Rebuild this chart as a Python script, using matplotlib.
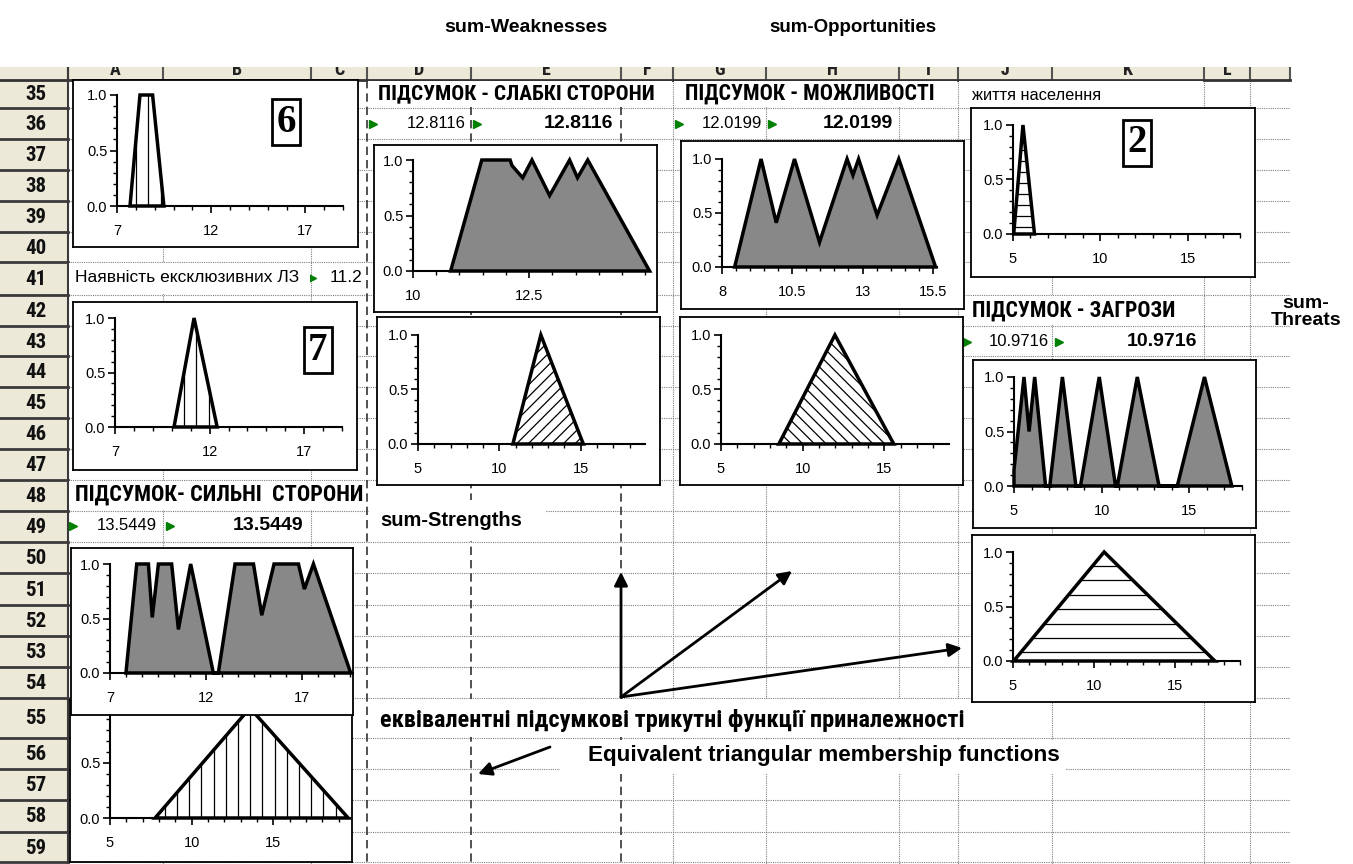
import numpy as np
import matplotlib
matplotlib.use('agg')
import matplotlib.pyplot as plt
from matplotlib.patches import Polygon, Rectangle
from matplotlib.lines import Line2D
from matplotlib.transforms import IdentityTransform
from matplotlib import font_manager

# ---- values ----
rows = list(range(35, 60))
cols = ['A', 'B', 'C', 'D', 'E', 'F', 'G', 'H', 'I', 'J', 'K', 'L']

# single criteria (charts 6, 7, 2)
c6_x = [7.69, 8.22, 8.89, 9.49]
c6_y = [0, 1, 1, 0]
c7_x = [10.12, 11.18, 12.4]
c7_y = [0, 1, 0]
c2_x = [5.04, 5.57, 6.23]
c2_y = [0, 1, 0]

# summed membership functions
s_x = [7.83, 8.39, 9.0, 9.2, 9.52, 10.21, 10.56, 11.2, 12.38, 12.64, 13.51, 14.47,
       14.9, 15.54, 16.81, 17.12, 17.59, 19.53]
s_y = [0, 1, 1, 0.51, 1, 1, 0.40, 1, 0, 0, 1, 1, 0.53, 1, 1, 0.77, 1, 0]
w_x = [10.81, 11.48, 12.09, 12.13, 12.36, 12.56, 12.94, 13.37, 13.54, 13.76, 15.09]
w_y = [0, 1, 1, 0.95, 0.84, 1, 0.68, 1, 0.84, 1, 0]
o_x = [8.45, 9.39, 9.93, 10.58, 11.47, 12.45, 12.66, 12.86, 13.52, 14.29, 15.6]
o_y = [0, 1, 0.41, 1, 0.23, 1, 0.85, 1, 0.48, 1, 0]
t_x = [5.0, 5.0, 5.57, 5.86, 6.18, 6.8, 7.04, 7.76, 8.53, 8.79, 9.86, 10.79, 10.89,
       12.03, 13.27, 14.31, 15.86, 17.42]
t_y = [0, 0.15, 1, 0.5, 1, 0, 0, 1, 0, 0, 1, 0, 0, 1, 0, 0, 1, 0]

# equivalent triangular functions (left, peak, right)
s_tri = [7.76, 13.57, 19.59]
w_tri = [10.83, 12.55, 15.16]
o_tri = [8.54, 11.97, 15.57]
t_tri = [5.04, 10.62, 17.45]
tri_y = [0, 1, 0]

s_val, w_val, o_val, t_val = '13.5449', '12.8116', '12.0199', '10.9716'

# ---- layout ----
W, H = 1353, 864
row_edges = [80, 108, 139, 170, 201, 232, 262, 295, 326, 356, 387, 418, 449, 480,
             511, 542, 573, 605, 636, 667, 698, 738, 769, 800, 832, 862]
col_edges = [68, 163, 311, 367, 471, 621, 673, 766, 899, 958, 1052, 1204, 1250, 1290]
page_breaks = [367, 471, 621]
# cells whose text overflows into the next cells (row index, x from, x to)
overflow = [(0, 368, 672), (0, 674, 957), (0, 959, 1203), (6, 69, 310), (7, 959, 1203),
            (13, 69, 366), (20, 368, 1051)]

names = {f.name for f in font_manager.fontManager.ttflist}
NARROW = 'Liberation Sans'
for cand in ['Liberation Sans Narrow', 'Roboto Condensed', 'Open Sans Condensed']:
    if cand in names:
        NARROW = cand
        break
SANS = 'Liberation Sans'

fig = plt.figure(figsize=(W / 100, H / 100), dpi=100)
bg = fig.add_axes([0, 0, 1, 1])
bg.set_xlim(0, W)
bg.set_ylim(H, 0)
bg.axis('off')
renderer = fig.canvas.get_renderer()


def rect(l, t, r, b):
    return [l / W, 1 - b / H, (r - l) / W, (b - t) / H]


def fit(t, target):
    w = t.get_window_extent(renderer).width
    t.set_fontsize(t.get_fontsize() * target / w)


# sheet grid
for y in row_edges[1:]:
    bg.plot([68, 1290], [y, y], color='#808080', lw=0.8, ls=(0, (1, 1)))
for x in col_edges[1:-1]:
    if x in page_breaks:
        bg.plot([x, x], [80, H], color='#333333', lw=1.2, ls=(0, (5, 3)))
    else:
        bg.plot([x, x], [80, H], color='#808080', lw=0.8, ls=(0, (1, 1)))
for i, xa, xb in overflow:
    bg.add_patch(Rectangle((xa, row_edges[i] + 1), xb - xa, row_edges[i + 1] - row_edges[i] - 2,
                           fc='white', ec='none', zorder=2.5))
# white boxes behind the two overlay captions
bg.add_patch(Rectangle((369, 500), 177, 41, fc='white', ec='none', zorder=2.5))
bg.add_patch(Rectangle((560, 740), 505, 34, fc='white', ec='none', zorder=2.5))

# column header (letters mostly cut off at the top of the screenshot)
bg.add_patch(Rectangle((0, 67), 1290, 13, fc='#ece9d8', ec='none'))
for i, c in enumerate(cols):
    bg.text((col_edges[i] + col_edges[i + 1]) / 2, 70, c, ha='center', va='center',
            fontsize=13, fontweight='bold', family=NARROW, color='#222222')
bg.add_patch(Rectangle((0, 40), 1300, 27, fc='white', ec='none', zorder=5))
for x in col_edges:
    bg.plot([x, x], [67, 80], color='#555555', lw=1.5)
bg.plot([0, 1290], [80, 80], color='#333333', lw=2)

# row headers
for i, r in enumerate(rows):
    top, bot = row_edges[i], row_edges[i + 1]
    bg.add_patch(Rectangle((0, top), 68, bot - top, fc='#ece9d8', ec='none'))
    bg.plot([0, 68], [bot, bot], color='#3a3a3a', lw=2)
    bg.text(36, (top + bot) / 2 + 1, str(r), ha='center', va='center', fontsize=15,
            fontweight='bold', family=NARROW, color='#111111')
bg.plot([68, 68], [67, H], color='#3a3a3a', lw=1.5)

# cell texts
heads = []
for x, y, s in [(378, 94, 'ПІДСУМОК - СЛАБКІ СТОРОНИ'), (685, 94, 'ПІДСУМОК - МОЖЛИВОСТІ'),
                (972, 311, 'ПІДСУМОК - ЗАГРОЗИ'), (75, 495, 'ПІДСУМОК- СИЛЬНІ  СТОРОНИ')]:
    heads.append(bg.text(x, y, s, ha='left', va='center', fontsize=14, fontweight='bold',
                         family=NARROW))
for t, tw in zip(heads, [277, 250, 204, 290]):
    fit(t, tw)

bg.text(972, 96, 'життя населення', ha='left', va='center', fontsize=11.8, family=SANS)
bg.text(75, 278, 'Наявність ексклюзивних ЛЗ', ha='left', va='center', fontsize=12.5, family=SANS)
bg.plot([312], [278], marker='>', color='#008000', ms=6)
bg.text(362, 278, '11.2', ha='right', va='center', fontsize=12.5, family=SANS)

for y, m1, r1, m2, r2, v in [(124, 373, 466, 477, 613, w_val), (124, 679, 762, 772, 893, o_val),
                             (342, 967, 1049, 1059, 1197, t_val), (526, 73, 157, 170, 303, s_val)]:
    bg.plot([m1, m2], [y, y], ls='none', marker='>', color='#008000', ms=6)
    bg.text(r1, y, v, ha='right', va='center', fontsize=12, family=SANS)
    bg.text(r2, y, v, ha='right', va='center', fontsize=14, fontweight='bold', family=SANS)

# annotation texts
bg.text(526, 27, 'sum-Weaknesses', ha='center', va='center', fontsize=14, fontweight='bold', family=SANS)
bg.text(853, 27, 'sum-Opportunities', ha='center', va='center', fontsize=13.5, fontweight='bold', family=SANS)
bg.text(1306, 312, 'sum-\nThreats', ha='center', va='center', fontsize=14, fontweight='bold',
        family=SANS, linespacing=1.0)
bg.text(380, 521, 'sum-Strengths', ha='left', va='center', fontsize=14.5, fontweight='bold', family=SANS)
t = bg.text(380, 720, 'еквівалентні підсумкові трикутні функції приналежності', ha='left',
            va='center', fontsize=18, fontweight='bold', family=NARROW)
fit(t, 583)
t = bg.text(588, 755, 'Equivalent triangular membership functions', ha='left', va='center',
            fontsize=14, fontweight='bold', family=SANS)
fit(t, 472)

arrow = dict(arrowstyle='-|>', color='black', lw=2, mutation_scale=20, shrinkA=0, shrinkB=0)
for tip in [(621, 572), (792, 571), (962, 648)]:
    bg.annotate('', xy=tip, xytext=(621, 697), arrowprops=arrow)
bg.annotate('', xy=(478, 774), xytext=(550, 747), arrowprops=arrow)


# ---- charts ----
def chart(box, area, xlim, xmajor, xminor, xlabels=None):
    fr = fig.add_axes(rect(*box))
    fr.set_xticks([])
    fr.set_yticks([])
    for s in fr.spines.values():
        s.set_linewidth(1.3)
    ax = fig.add_axes(rect(*area))
    ax.set_facecolor('none')
    ax.set_xlim(*xlim)
    ax.set_ylim(0, 1)
    for s in ['top', 'right']:
        ax.spines[s].set_visible(False)
    ax.spines['left'].set_linewidth(1.5)
    ax.spines['bottom'].set_linewidth(1.5)
    ax.set_xticks(xmajor)
    ax.set_xticklabels(xlabels if xlabels else [f'{v:g}' for v in xmajor])
    ax.set_xticks(xminor, minor=True)
    ax.set_yticks([0, 0.5, 1])
    ax.set_yticklabels(['0.0', '0.5', '1.0'])
    ax.set_yticks(np.arange(0, 1.01, 0.1), minor=True)
    ax.tick_params(which='major', direction='out', length=5, width=1.2, labelsize=10.5, pad=2)
    ax.tick_params(which='minor', direction='out', length=3, width=1)
    ax.tick_params(axis='x', pad=8)
    for lab in ax.get_xticklabels() + ax.get_yticklabels():
        lab.set_family(SANS)
    return ax


def shade(ax, xs, ys):
    ax.fill(xs, ys, facecolor='#888888', edgecolor='black', lw=2.5, clip_on=False,
            joinstyle='miter', zorder=3)


def hatched(ax, xs, ys, kind, step):
    poly = Polygon(np.column_stack([xs, ys]), closed=True, fc='white', ec='none', zorder=2)
    ax.add_patch(poly)
    bb = ax.get_position()
    x0, y0, x1, y1 = bb.x0 * W, bb.y0 * H, bb.x1 * W, bb.y1 * H
    segs = []
    if kind == '|':
        segs = [([x, x], [y0, y1]) for x in np.arange(x0 + step / 2, x1, step)]
    elif kind == '-':
        segs = [([x0, x1], [y, y]) for y in np.arange(y0 + step * 0.6, y1, step)]
    elif kind == '/':
        segs = [([x0, x1], [x0 + c, x1 + c]) for c in np.arange(y0 - x1, y1 - x0, step)]
    elif kind == '\\':
        segs = [([x0, x1], [c - x0, c - x1]) for c in np.arange(y0 + x0, y1 + x1, step)]
    for sx, sy in segs:
        ln = Line2D(sx, sy, transform=IdentityTransform(), color='black', lw=0.9, zorder=2.5)
        ln.set_clip_path(poly)
        ax.add_artist(ln)
    ax.add_patch(Polygon(np.column_stack([xs, ys]), closed=True, fc='none', ec='black', lw=2.5,
                         clip_on=False, joinstyle='miter', zorder=3))


# chart 6
ax = chart((73, 80, 358, 247), (117, 95, 343, 206), (7, 19), [7, 12, 17], np.arange(7, 19.01, 1))
hatched(ax, c6_x, c6_y, '|', 12.5)
# chart 7
ax = chart((73, 302, 357, 470), (115, 318, 342, 427), (7, 19), [7, 12, 17], np.arange(7, 19.01, 1))
hatched(ax, c7_x, c7_y, '|', 12.5)
# strengths triangle (top part hidden behind the sum chart)
ax = chart((70, 700, 352, 862), (110, 708, 350, 818), (5, 19.7), [5, 10, 15], np.arange(5, 19.71, 1))
hatched(ax, s_tri, tri_y, '|', 12.2)
# strengths sum
ax = chart((71, 548, 353, 715), (110, 564, 353, 673), (7, 19.65), [7, 12, 17],
           np.arange(7, 19.66, 5 / 6))
shade(ax, s_x, s_y)
# weaknesses
ax = chart((374, 145, 657, 312), (413, 160, 650, 271), (10, 15.1), [10, 12.5], np.arange(10, 15.11, 0.5))
shade(ax, w_x, w_y)
ax = chart((377, 317, 660, 485), (418, 335, 645, 444), (5, 18.95), [5, 10, 15], np.arange(5, 18.96, 1))
hatched(ax, w_tri, tri_y, '/', 11.7)
# opportunities
ax = chart((681, 141, 964, 309), (722, 159, 937, 267), (8, 15.65), [8, 10.5, 13, 15.5],
           np.arange(8, 15.66, 0.5))
shade(ax, o_x, o_y)
ax = chart((680, 317, 963, 485), (721, 335, 949, 444), (5, 18.95), [5, 10, 15], np.arange(5, 18.96, 1))
hatched(ax, o_tri, tri_y, '\\', 11.7)
# threats
ax = chart((971, 108, 1255, 277), (1013, 125, 1240, 234), (5, 18), [5, 10, 15], np.arange(5, 18.01, 1))
hatched(ax, c2_x, c2_y, '-', 11)
ax = chart((973, 360, 1256, 528), (1014, 377, 1242, 486), (5, 18), [5, 10, 15], np.arange(5, 18.01, 1))
shade(ax, t_x, t_y)
ax = chart((972, 535, 1255, 702), (1013, 552, 1240, 661), (5, 19), [5, 10, 15], np.arange(5, 19.01, 1))
hatched(ax, t_tri, tri_y, '-', 14.4)

# boxed numbers
for x, y, s in [(286, 122, '6'), (318, 350, '7'), (1137, 143, '2')]:
    fig.text(x / W, 1 - y / H, s, ha='center', va='center', fontsize=28, fontweight='bold',
             family='Liberation Serif',
             bbox=dict(boxstyle='square,pad=0.12', fc='white', ec='black', lw=2))

fig.savefig('out.png', dpi=100)
plt.close()
